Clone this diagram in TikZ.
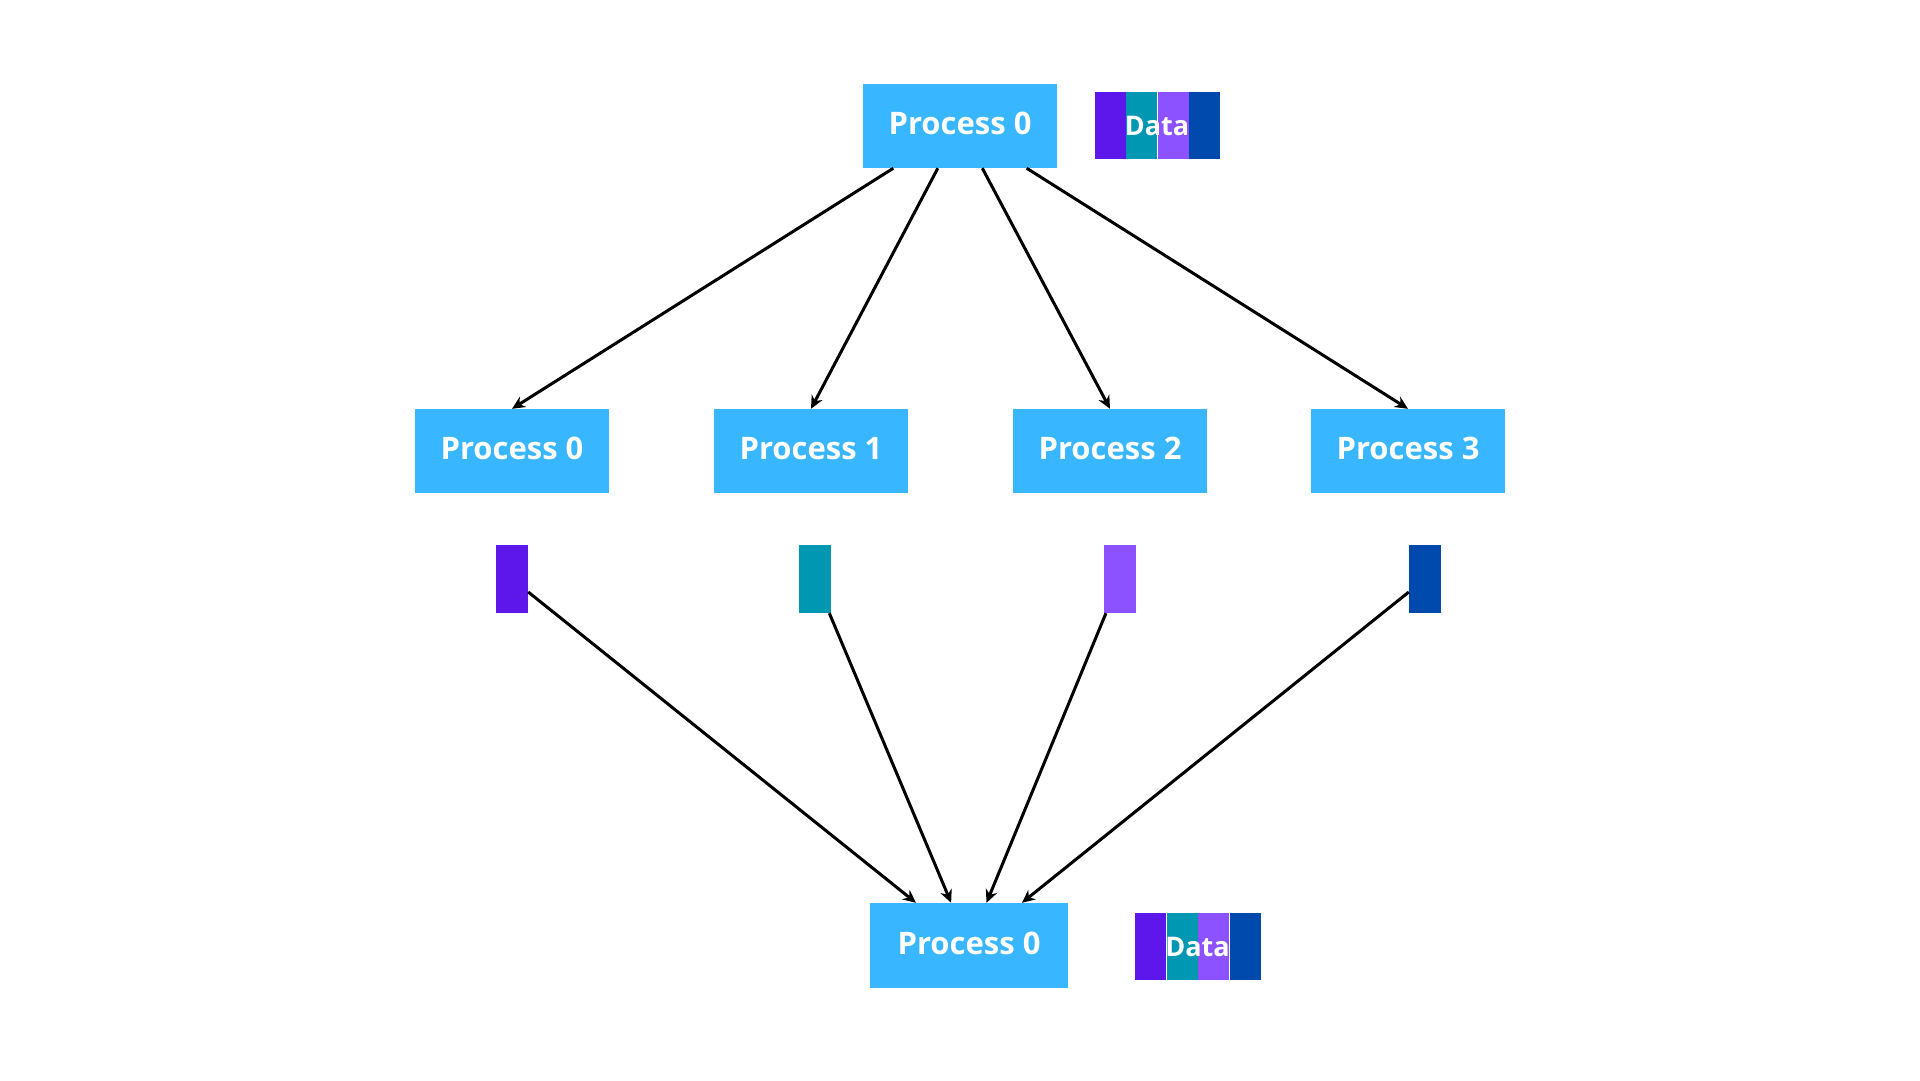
\documentclass[tikz,border=0pt]{standalone}
\usepackage{fontspec}
\setmainfont{Open Sans}
\usetikzlibrary{arrows.meta}

\definecolor{procblue}{HTML}{38B6FF}
\definecolor{partA}{HTML}{5E17EB}
\definecolor{partB}{HTML}{0097B2}
\definecolor{partC}{HTML}{8C52FF}
\definecolor{partD}{HTML}{004AAD}

\tikzset{
  proc/.style={fill=procblue, draw=none, minimum width=194pt, minimum height=84pt,
    inner sep=0pt, text height=22pt, text depth=5pt, text=white,
    font=\fontsize{31}{36}\selectfont\bfseries},
  chunk/.style={draw=none, minimum width=32pt, minimum height=68pt, inner sep=0pt},
  seg/.style={draw=none, minimum width=31pt, minimum height=67pt, inner sep=0pt},
  datalabel/.style={text=white, inner sep=0pt, text height=20pt, text depth=0pt,
    font=\fontsize{27}{32}\selectfont\bfseries},
  link/.style={draw=black, line width=3pt, -{Stealth[length=13pt,width=12pt]}},
}

% one strip of four coloured parts with a label over it
\newcommand{\datastrip}[3]{%
  \node[seg, fill=partA] (#1a) at (#2-47, #3) {};
  \node[seg, fill=partB] (#1b) at (#2-15.5, #3) {};
  \node[seg, fill=partC] (#1c) at (#2+16, #3) {};
  \node[seg, fill=partD] (#1d) at (#2+47.5, #3) {};
  \node[datalabel] (#1t) at (#2, #3) {Data};
}

\begin{document}
\begin{tikzpicture}[x=1pt, y=-1pt]
  \useasboundingbox (0,0) rectangle (1920,1080);
  \fill[white] (0,0) rectangle (1920,1080);

  % root process
  \node[proc] (top) at (960,126) {Process 0};
  \datastrip{topdata}{1157}{125.5}

  % worker processes
  \node[proc] (m0) at (512,451) {Process 0};
  \node[proc] (m1) at (811,451) {Process 1};
  \node[proc] (m2) at (1110,451) {Process 2};
  \node[proc] (m3) at (1408,451) {Process 3};

  % each worker's share of the data
  \node[chunk, fill=partA] (c0) at (512,579) {};
  \node[chunk, fill=partB] (c1) at (815,579) {};
  \node[chunk, fill=partC] (c2) at (1120,579) {};
  \node[chunk, fill=partD] (c3) at (1425,579) {};

  % gathering process
  \node[proc, minimum width=198pt, minimum height=85pt] (bot) at (969,945.5) {Process 0};
  \datastrip{botdata}{1197.5}{946}

  % scatter
  \draw[link] (top) -- (m0.north);
  \draw[link] (top) -- (m1.north);
  \draw[link] (top) -- (m2.north);
  \draw[link] (top) -- (m3.north);

  % gather
  \draw[link] (c0) -- (bot);
  \draw[link] (c1) -- (bot);
  \draw[link] (c2) -- (bot);
  \draw[link] (c3) -- (bot);
\end{tikzpicture}
\end{document}
